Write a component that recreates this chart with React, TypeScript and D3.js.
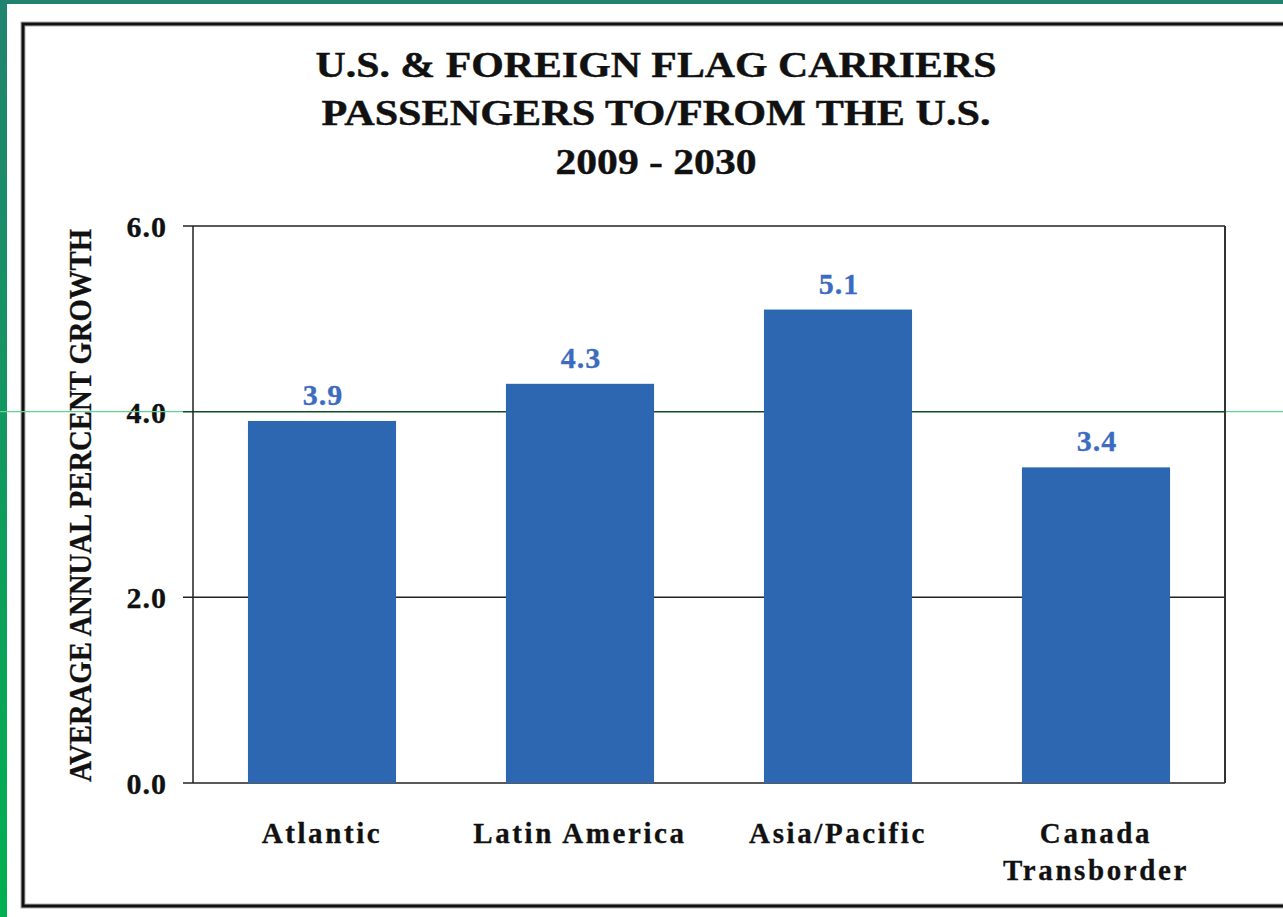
import React from "react";
import * as d3 from "d3";

const categories: string[][] = [["Atlantic"], ["Latin America"], ["Asia/Pacific"], ["Canada", "Transborder"]];
const values: number[] = [3.9, 4.3, 5.1, 3.4];
const yTicks: number[] = [0, 2, 4, 6];
const titleLines: string[] = ["U.S. & FOREIGN FLAG CARRIERS", "PASSENGERS TO/FROM THE U.S.", "2009 - 2030"];
const yTitle = "AVERAGE ANNUAL PERCENT GROWTH";

const W = 1283;
const H = 917;
const plot = { left: 193, right: 1225, top: 226, bottom: 783 };
const FONT = "'Liberation Serif', 'Times New Roman', serif";

export default function App() {
  const x = d3
    .scaleBand<number>()
    .domain(values.map((_, i) => i))
    .range([plot.left, plot.right])
    .paddingInner(0.426)
    .paddingOuter(0.213);
  const y = d3.scaleLinear().domain([0, 6]).range([plot.bottom, plot.top]);
  const titleWidths = [681, 669, 201];
  const titleBase = [77, 125, 174];

  return (
    <div style={{ position: "fixed", left: 0, top: 0, width: W, height: H, background: "#fff" }}>
      <svg width={W} height={H} viewBox={`0 0 ${W} ${H}`} style={{ display: "block" }}>
        <defs>
          <linearGradient id="leftStrip" x1="0" y1="0" x2="0" y2="1">
            <stop offset="0" stopColor="#21836f" />
            <stop offset="1" stopColor="#00b050" />
          </linearGradient>
        </defs>
        <rect x={0} y={0} width={W} height={H} fill="#fff" />
        <rect x={0} y={0} width={W} height={4} fill="#21836f" />
        <rect x={0} y={0} width={7} height={H} fill="url(#leftStrip)" />
        {/* outer frame */}
        <rect x={23} y={24} width={1320} height={882} fill="none" stroke="#b0b0b0" strokeWidth={5} />
        <rect x={23} y={24} width={1320} height={882} fill="none" stroke="#111" strokeWidth={3} />

        {/* title */}
        {titleLines.map((t, i) => (
          <text
            key={i}
            x={656}
            y={titleBase[i]}
            textAnchor="middle"
            fontFamily={FONT}
            fontWeight="bold"
            fontSize={35}
            textLength={titleWidths[i]}
            lengthAdjust="spacingAndGlyphs"
            fill="#111"
            stroke="#111"
            strokeWidth={0.4}
          >
            {t}
          </text>
        ))}

        {/* gridlines */}
        {yTicks.map((t) => (
          <line
            key={t}
            x1={plot.left - 10}
            x2={plot.right}
            y1={y(t)}
            y2={y(t)}
            stroke={t === 4 ? "#0d4a26" : "#222"}
            strokeWidth={1.5}
          />
        ))}
        {/* axis frame */}
        <line x1={plot.left} x2={plot.left} y1={plot.top} y2={plot.bottom} stroke="#222" strokeWidth={1.5} />
        <line x1={plot.right} x2={plot.right} y1={plot.top} y2={plot.bottom} stroke="#333" strokeWidth={2} />

        {/* tick labels */}
        {yTicks.map((t) => (
          <text
            key={t}
            x={167}
            y={y(t) + 11}
            textAnchor="end"
            fontFamily={FONT}
            fontWeight="bold"
            fontSize={30}
            letterSpacing={1}
            fill="#111"
            stroke="#111"
            strokeWidth={0.3}
          >
            {d3.format(".1f")(t)}
          </text>
        ))}

        {/* bars */}
        {values.map((v, i) => (
          <rect key={i} x={x(i)} y={y(v)} width={x.bandwidth()} height={y(0) - y(v)} fill="#2e67b1" />
        ))}
        {values.map((v, i) => (
          <text
            key={i}
            x={(x(i) as number) + x.bandwidth() / 2 + 1}
            y={y(v) - 16}
            textAnchor="middle"
            fontFamily={FONT}
            fontWeight="bold"
            fontSize={30}
            letterSpacing={1}
            fill="#3b6cbf"
            stroke="#3b6cbf"
            strokeWidth={0.3}
          >
            {d3.format(".1f")(v)}
          </text>
        ))}

        {/* category labels */}
        {categories.map((lines, i) =>
          lines.map((l, j) => (
            <text
              key={`${i}-${j}`}
              x={(x(i) as number) + x.bandwidth() / 2}
              y={843 + j * 37}
              textAnchor="middle"
              fontFamily={FONT}
              fontWeight="bold"
              fontSize={29}
              letterSpacing={2.6}
              fill="#111"
              stroke="#111"
              strokeWidth={0.3}
            >
              {l}
            </text>
          ))
        )}

        {/* y-axis title */}
        <text
          transform={`translate(91, ${(plot.top + plot.bottom) / 2 + 1}) rotate(-90)`}
          textAnchor="middle"
          fontFamily={FONT}
          fontWeight="bold"
          fontSize={32}
          textLength={553}
          lengthAdjust="spacingAndGlyphs"
          fill="#111"
          stroke="#111"
          strokeWidth={0.3}
        >
          {yTitle}
        </text>

        {/* thin green guide line */}
        <line x1={0} x2={plot.left - 10} y1={y(4)} y2={y(4)} stroke="#5fd68f" strokeWidth={1.2} />
        <line x1={plot.right + 1} x2={W} y1={y(4)} y2={y(4)} stroke="#5fd68f" strokeWidth={1.2} />
      </svg>
    </div>
  );
}
